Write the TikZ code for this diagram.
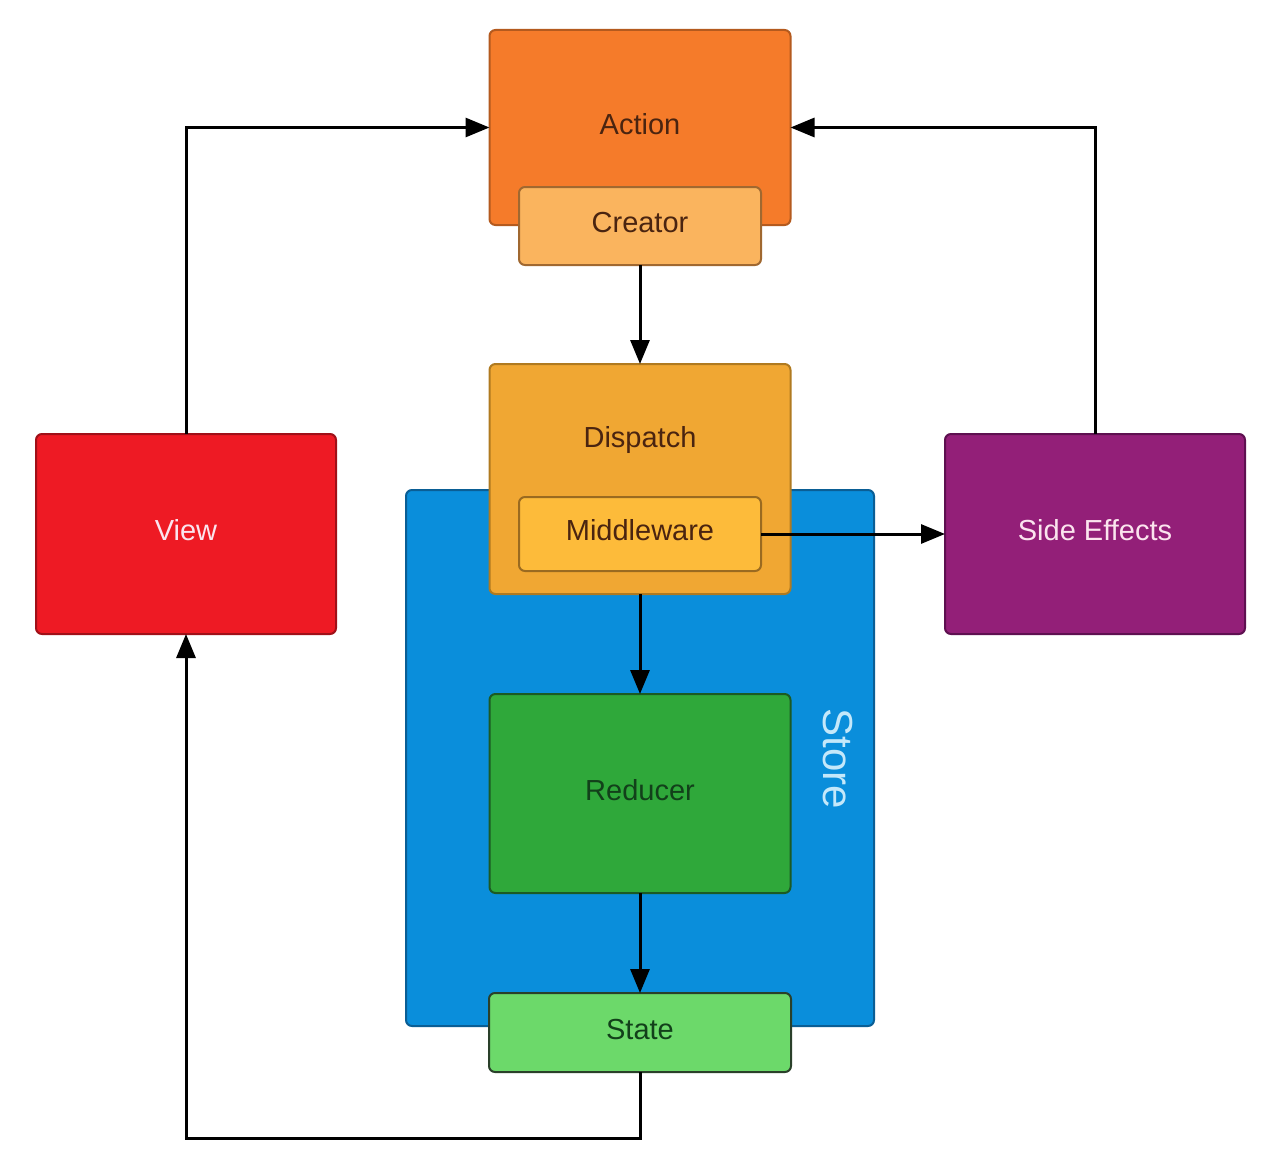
\documentclass[tikz,border=0pt]{standalone}
\usepackage{fontspec}
\setmainfont{Liberation Sans}
\usetikzlibrary{arrows.meta}
\definecolor{actfill}{HTML}{F57B2A}\definecolor{actdraw}{HTML}{B45A1E}
\definecolor{crefill}{HTML}{FAB45E}\definecolor{credraw}{HTML}{A06830}
\definecolor{disfill}{HTML}{F0A733}\definecolor{disdraw}{HTML}{B07A20}
\definecolor{midfill}{HTML}{FDBB3A}\definecolor{middraw}{HTML}{9A6A20}
\definecolor{stofill}{HTML}{0A8EDB}\definecolor{stodraw}{HTML}{0A5E95}
\definecolor{redfill}{HTML}{2FA83A}\definecolor{reddraw}{HTML}{1C5A24}
\definecolor{stafill}{HTML}{6CD96A}\definecolor{stadraw}{HTML}{2A402A}
\definecolor{viefill}{HTML}{EE1A24}\definecolor{viedraw}{HTML}{A01018}
\definecolor{sidfill}{HTML}{931F78}\definecolor{siddraw}{HTML}{5E1050}
\definecolor{brtext}{HTML}{4A2410}
\definecolor{grtext}{HTML}{12401A}
\definecolor{lttext}{HTML}{FBE4EE}
\definecolor{bltext}{HTML}{C4E8FA}
\begin{document}
\begin{tikzpicture}[x=1pt,y=-1pt,
  box/.style={rectangle, rounded corners=6pt, line width=2pt, inner sep=0pt, outer sep=0pt,
    font=\fontsize{29}{34}\selectfont, text height=21pt, text depth=8pt},
  lbl/.style={inner sep=0pt, font=\fontsize{29}{34}\selectfont, text height=21pt, text depth=8pt},
  conn/.style={line width=3pt, black, -{Triangle[length=24pt,width=19pt]}}]
\useasboundingbox (0,0) rectangle (1280,1172);
\fill[white] (0,0) rectangle (1280,1172);
% Action + Creator
\node[box, fill=actfill, draw=actdraw, minimum width=301pt, minimum height=195pt, text=brtext] (action) at (640,127.5) {Action};
\node[box, fill=crefill, draw=credraw, minimum width=242pt, minimum height=78pt, text=brtext] (creator) at (640,226) {Creator};
% Store
\node[box, fill=stofill, draw=stodraw, minimum width=468pt, minimum height=536pt] (store) at (640,758) {};
\node[inner sep=0pt, text=bltext, rotate=-90, font=\fontsize{42}{48}\selectfont] (storetxt) at (838,759) {Store};
% Dispatch + Middleware
\node[box, fill=disfill, draw=disdraw, minimum width=301pt, minimum height=230pt] (dispatch) at (640,479) {};
\node[lbl, text=brtext] (dispatchtxt) at (640,441) {Dispatch};
\node[box, fill=midfill, draw=middraw, minimum width=242pt, minimum height=74pt, text=brtext] (middleware) at (640,534) {Middleware};
% Reducer + State
\node[box, fill=redfill, draw=reddraw, minimum width=301pt, minimum height=199pt, text=grtext] (reducer) at (640,793.5) {Reducer};
\node[box, fill=stafill, draw=stadraw, minimum width=302pt, minimum height=79pt, text=grtext] (state) at (640,1032.5) {State};
% View and Side Effects
\node[box, fill=viefill, draw=viedraw, minimum width=300pt, minimum height=200pt, text=lttext] (view) at (186,534) {View};
\node[box, fill=sidfill, draw=siddraw, minimum width=300pt, minimum height=200pt, text=lttext] (side) at (1095,534) {Side Effects};
% connectors
\coordinate (bend) at (640,1138);
\draw[conn] (view.north) |- (action.west);
\draw[conn] (side.north) |- (action.east);
\draw[conn] (creator.south) -- (dispatch.north);
\draw[conn] (middleware.east) -- (side.west);
\draw[conn] (dispatch.south) -- (reducer.north);
\draw[conn] (reducer.south) -- (state.north);
\draw[conn] (state.south) -- (bend) -| (view.south);
\end{tikzpicture}
\end{document}
